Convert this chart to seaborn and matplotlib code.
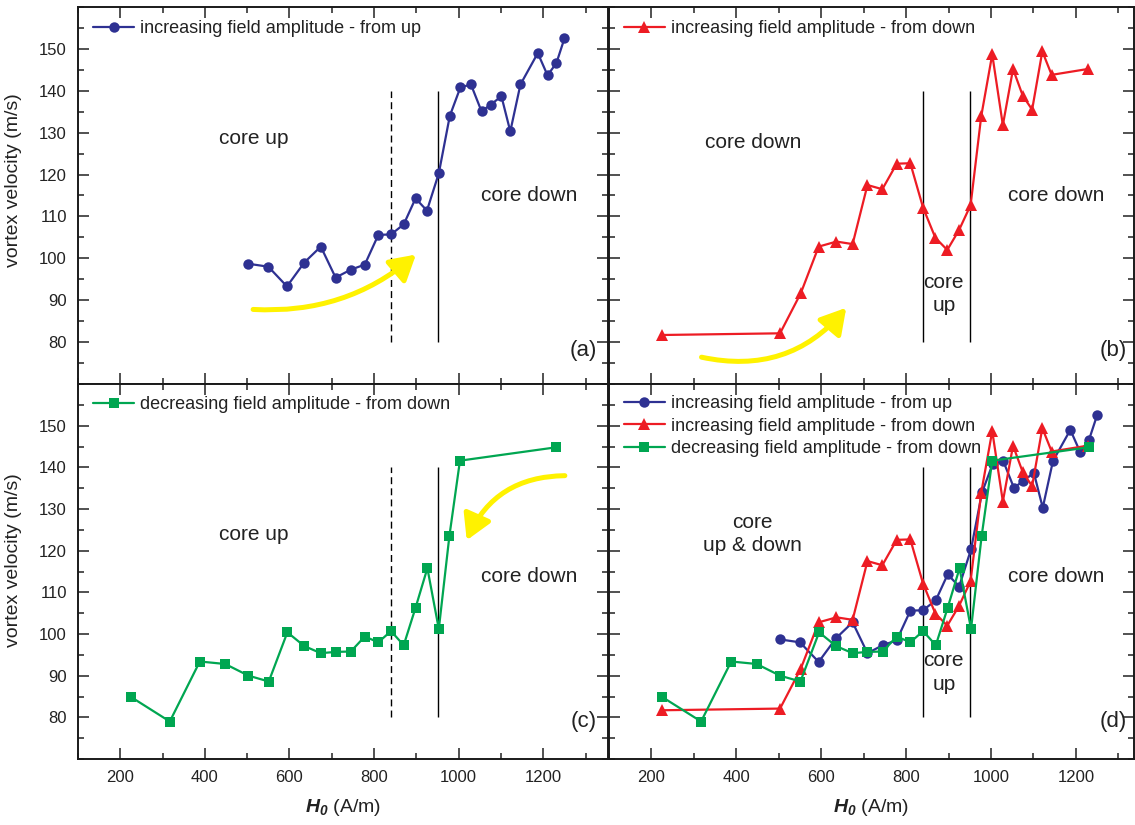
import matplotlib
matplotlib.use("Agg")
import matplotlib.pyplot as plt
import pandas as pd
import seaborn as sns
from matplotlib.ticker import MultipleLocator, FixedLocator

# Field amplitude H0 (A/m) and vortex velocity (m/s) for each sweep
h_up = [503, 550, 594, 635, 674, 709, 745, 778, 810, 840, 870, 898, 925,
        953, 979, 1004, 1029, 1054, 1076, 1101, 1122, 1146, 1187, 1210, 1231, 1250]
v_up = [98.7, 98.0, 93.3, 99.0, 102.8, 95.4, 97.3, 98.5, 105.6, 105.7, 108.1,
        114.3, 111.4, 120.3, 134.0, 140.8, 141.5, 135.1, 136.7, 138.7, 130.3,
        141.5, 149.0, 143.7, 146.6, 152.5]

h_down = [226, 503, 552, 594, 636, 674, 709, 744, 778, 810, 840, 869, 897,
          925, 952, 977, 1003, 1028, 1052, 1075, 1097, 1121, 1143, 1228]
v_down = [81.7, 82.1, 91.7, 102.8, 104.0, 103.4, 117.5, 116.5, 122.6, 122.7,
          112.1, 104.9, 102.0, 106.8, 112.7, 133.9, 148.7, 131.8, 145.2, 138.8,
          135.5, 149.4, 143.8, 145.2]

h_dec = [225, 317, 388, 448, 503, 551, 595, 635, 674, 709, 745, 778, 810,
         840, 870, 898, 926, 953, 978, 1003, 1230]
v_dec = [84.9, 79.0, 93.4, 92.8, 90.0, 88.6, 100.4, 97.1, 95.4, 95.7, 95.8,
         99.4, 98.0, 100.7, 97.3, 106.3, 115.8, 101.2, 123.5, 141.6, 144.8]

label_up = "increasing field amplitude - from up"
label_down = "increasing field amplitude - from down"
label_dec = "decreasing field amplitude - from down"

# Tick values
x_ticks = [200, 400, 600, 800, 1000, 1200]
y_ticks = [80, 90, 100, 110, 120, 130, 140, 150]

# Core switching fields (A/m) and the velocity span of the marker lines
h_switch_low = 840
h_switch_high = 950
v_line_span = (80, 140)

BLUE = "#2e3192"
RED = "#ed1c24"
GREEN = "#00a651"
YELLOW = "#fff200"
INK = "#222222"

sns.set_theme(style="ticks")
plt.rcParams["font.family"] = ["Liberation Sans", "DejaVu Sans"]
plt.rcParams["mathtext.fontset"] = "custom"
plt.rcParams["mathtext.bf"] = "Liberation Sans:bold:italic"
plt.rcParams["mathtext.it"] = "Liberation Sans:italic"
plt.rcParams["mathtext.rm"] = "Liberation Sans"

series = {
    "up": dict(df=pd.DataFrame({"H": h_up, "v": v_up}), color=BLUE, marker="o",
               ms=7.5, label=label_up),
    "down": dict(df=pd.DataFrame({"H": h_down, "v": v_down}), color=RED, marker="^",
                 ms=9, label=label_down),
    "dec": dict(df=pd.DataFrame({"H": h_dec, "v": v_dec}), color=GREEN, marker="s",
                ms=7, label=label_dec),
}

fig = plt.figure(figsize=(11.35, 8.25), dpi=100)
W, H = 1135.0, 825.0


def add_axes(x0, y_top, w, h):
    return fig.add_axes([x0 / W, (H - y_top - h) / H, w / W, h / H])


ax_a = add_axes(78, 7, 530, 377)
ax_b = add_axes(609, 7, 525, 377)
ax_c = add_axes(78, 384, 530, 375)
ax_d = add_axes(609, 384, 525, 375)


def draw(ax, key):
    s = series[key]
    sns.lineplot(data=s["df"], x="H", y="v", ax=ax, sort=False, estimator=None,
                 color=s["color"], marker=s["marker"], markersize=s["ms"],
                 markeredgewidth=0, linewidth=1.6, label=s["label"])


def style(ax, left, bottom, xmax):
    ax.set_xlim(100, xmax)
    ax.set_ylim(70, 160)
    ax.xaxis.set_major_locator(FixedLocator(x_ticks))
    ax.xaxis.set_minor_locator(MultipleLocator(100))
    ax.yaxis.set_major_locator(FixedLocator(y_ticks))
    ax.yaxis.set_minor_locator(MultipleLocator(5))
    ax.tick_params(which="both", direction="in", top=True, right=True,
                   width=1.1, colors=INK, labelcolor=INK)
    ax.tick_params(which="major", length=8, labelsize=12, pad=8)
    ax.tick_params(which="minor", length=4.5)
    ax.tick_params(axis="x", labelbottom=bottom)
    ax.tick_params(axis="y", labelleft=left)
    for sp in ax.spines.values():
        sp.set_visible(True)
        sp.set_linewidth(1.4)
        sp.set_color("#1a1a1a")
    ax.set_xlabel("")
    ax.set_ylabel("")
    if left:
        ax.set_ylabel("vortex velocity (m/s)", fontsize=14, color=INK)
    if bottom:
        ax.set_xlabel(r"$\mathbf{H_0}$ (A/m)", fontsize=14, color=INK)
        ax.xaxis.set_label_coords(0.5, -0.1)


def legend(ax, y):
    ax.legend(loc="upper left", bbox_to_anchor=(0.028, y), frameon=False,
              fontsize=13, handlelength=2.3, handletextpad=0.3,
              labelspacing=0.32, borderpad=0, borderaxespad=0,
              labelcolor=INK)


def switch_lines(ax, dashed_low):
    ax.vlines(h_switch_low, *v_line_span, color="black", lw=1.0,
              linestyles=(0, (5, 3)) if dashed_low else "solid", zorder=1)
    ax.vlines(h_switch_high, *v_line_span, color="black", lw=1.0, zorder=1)


def arrow(ax, start, end, rad):
    ax.annotate("", xy=end, xytext=start,
                arrowprops=dict(arrowstyle="-|>,head_length=0.95,head_width=0.55",
                                color=YELLOW, lw=3.6, mutation_scale=16,
                                shrinkA=0, shrinkB=0,
                                connectionstyle=f"arc3,rad={rad}"),
                zorder=3)


txt = dict(fontsize=15, color=INK, ha="center", va="center")
multi = dict(txt, linespacing=1.3)

# (a)
switch_lines(ax_a, True)
draw(ax_a, "up")
arrow(ax_a, (514, 87.8), (899, 100.9), 0.2)
ax_a.text(516, 128.7, "core up", **txt)
ax_a.text(1166, 115, "core down", **txt)
ax_a.text(0.979, 0.09, "(a)", transform=ax_a.transAxes, fontsize=16,
          ha="right", va="center", color=INK)
style(ax_a, True, False, 1353)
legend(ax_a, 0.965)
ax_a.yaxis.set_label_coords(-0.106, 0.54)

# (b)
switch_lines(ax_b, False)
draw(ax_b, "down")
arrow(ax_b, (318, 76.4), (659, 88.2), 0.3)
ax_b.text(439, 127.7, "core down", **txt)
ax_b.text(1153, 115, "core down", **txt)
ax_b.text(889, 91.5, "core\nup", **multi)
ax_b.text(0.987, 0.09, "(b)", transform=ax_b.transAxes, fontsize=16,
          ha="right", va="center", color=INK)
style(ax_b, False, False, 1337)
legend(ax_b, 0.965)

# (c)
switch_lines(ax_c, True)
draw(ax_c, "dec")
arrow(ax_c, (1251, 138.0), (1019, 122.5), 0.32)
ax_c.text(516, 123.8, "core up", **txt)
ax_c.text(1166, 113.8, "core down", **txt)
ax_c.text(0.979, 0.099, "(c)", transform=ax_c.transAxes, fontsize=16,
          ha="right", va="center", color=INK)
style(ax_c, True, True, 1353)
legend(ax_c, 0.968)
ax_c.yaxis.set_label_coords(-0.106, 0.53)

# (d)
switch_lines(ax_d, False)
for key in ("up", "down", "dec"):
    draw(ax_d, key)
ax_d.text(437, 124.0, "core\nup & down", **multi)
ax_d.text(1153, 113.8, "core down", **txt)
ax_d.text(889, 90.7, "core\nup", **multi)
ax_d.text(0.987, 0.099, "(d)", transform=ax_d.transAxes, fontsize=16,
          ha="right", va="center", color=INK)
style(ax_d, False, True, 1337)
legend(ax_d, 0.971)

fig.savefig("out.png", dpi=100)
